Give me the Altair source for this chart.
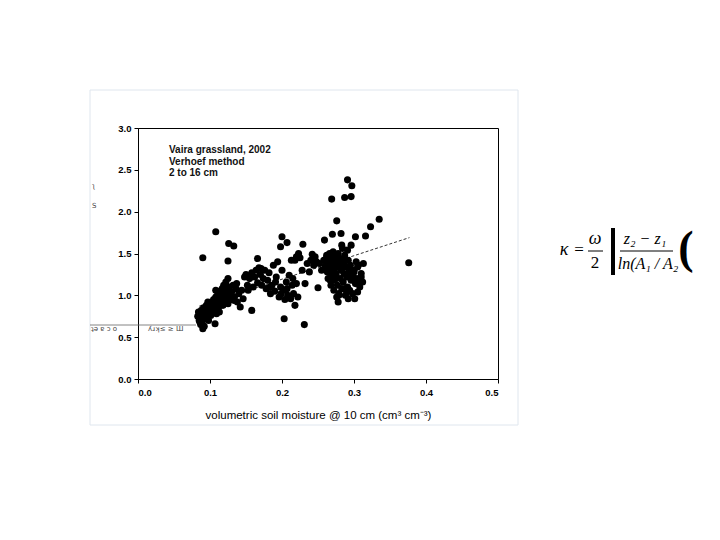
import altair as alt
import pandas as pd

# ---- scatter data, grouped by region ----
left_x = [
    0.083, 0.084, 0.085, 0.086, 0.087, 0.088, 0.088, 0.089, 0.090, 0.090, 0.091, 0.092, 0.093, 0.094,
    0.095, 0.096, 0.097, 0.098, 0.099, 0.100, 0.101, 0.102, 0.103, 0.104, 0.105, 0.106, 0.107, 0.108,
    0.109, 0.110, 0.111, 0.112, 0.113, 0.114, 0.115, 0.116, 0.117, 0.118, 0.119, 0.120, 0.121, 0.122,
    0.123, 0.124, 0.125, 0.126, 0.127, 0.128, 0.130, 0.132, 0.134, 0.136, 0.138, 0.140, 0.142, 0.144,
    0.146, 0.148, 0.086, 0.092, 0.097, 0.103, 0.108, 0.113, 0.118, 0.121, 0.125, 0.129, 0.133, 0.137,
]
left_y = [
    0.75, 0.80, 0.70, 0.78, 0.65, 0.72, 0.82, 0.68, 0.60, 0.76, 0.85, 0.63, 0.80, 0.72,
    0.88, 0.78, 0.84, 0.70, 0.90, 0.82, 0.76, 0.92, 0.86, 0.80, 0.95, 0.88, 0.84, 0.98,
    0.78, 0.92, 1.02, 0.86, 0.96, 1.05, 0.90, 1.00, 1.08, 0.94, 1.12, 0.98, 1.04, 1.16,
    0.92, 1.06, 1.20, 1.00, 1.10, 0.95, 1.04, 1.12, 0.98, 1.08, 0.92, 1.02, 0.86, 1.06,
    0.96, 1.22, 0.68, 0.74, 0.92, 0.88, 1.06, 0.80, 0.88, 1.10, 0.90, 1.00, 0.94, 1.14,
]
mid_x = [
    0.150, 0.152, 0.155, 0.158, 0.160, 0.162, 0.164, 0.166, 0.168, 0.170, 0.172, 0.174, 0.176, 0.178,
    0.180, 0.182, 0.184, 0.186, 0.188, 0.190, 0.192, 0.194, 0.196, 0.198, 0.200, 0.202, 0.204, 0.206,
    0.208, 0.210, 0.212, 0.214, 0.216, 0.218, 0.220, 0.222, 0.225, 0.228, 0.232, 0.235, 0.238, 0.240,
    0.244, 0.246, 0.248, 0.153, 0.171, 0.183, 0.191, 0.199, 0.207, 0.215,
]
mid_y = [
    1.25, 1.12, 1.20, 1.27, 1.10, 1.22, 1.30, 1.15, 1.33, 1.25, 1.12, 1.20, 1.30, 1.08,
    1.18, 1.27, 1.02, 1.12, 1.36, 1.05, 1.22, 1.40, 0.98, 1.10, 1.30, 1.06, 0.95, 1.16,
    1.00, 1.24, 0.96, 1.12, 1.02, 1.42, 1.14, 0.98, 1.45, 1.30, 1.14, 1.38, 1.28, 1.42,
    1.36, 1.46, 1.40, 1.06, 1.32, 1.10, 1.16, 1.02, 1.08, 1.20,
]
right_x = [
    0.252, 0.255, 0.258, 0.260, 0.262, 0.263, 0.265, 0.266, 0.267, 0.268, 0.269, 0.270, 0.271, 0.272,
    0.273, 0.274, 0.275, 0.276, 0.277, 0.278, 0.279, 0.280, 0.281, 0.282, 0.283, 0.284, 0.285, 0.286,
    0.287, 0.288, 0.289, 0.290, 0.291, 0.292, 0.293, 0.294, 0.295, 0.296, 0.298, 0.300, 0.302, 0.304,
    0.306, 0.308, 0.310, 0.312, 0.264, 0.268, 0.272, 0.276, 0.280, 0.284, 0.288, 0.292, 0.261, 0.270,
    0.274, 0.278, 0.283, 0.287, 0.291, 0.296, 0.300, 0.305, 0.266, 0.279, 0.262, 0.267, 0.271, 0.275,
    0.279, 0.283, 0.286, 0.290, 0.294, 0.298,
]
right_y = [
    1.38, 1.30, 1.42, 1.35, 1.45, 1.28, 1.40, 1.50, 1.33, 1.22, 1.44, 1.36, 1.52, 1.30,
    1.18, 1.40, 1.26, 1.46, 1.12, 1.34, 1.02, 1.42, 1.20, 1.30, 1.08, 1.38, 1.16, 1.26,
    1.48, 1.00, 1.34, 1.22, 1.10, 1.42, 1.28, 1.06, 1.36, 1.18, 1.24, 1.30, 1.14, 1.20,
    1.36, 1.10, 1.22, 1.16, 1.20, 1.12, 1.06, 0.98, 1.44, 1.56, 1.08, 0.96, 1.32, 1.26,
    1.40, 1.50, 1.32, 1.44, 1.54, 1.60, 1.28, 1.34, 1.46, 1.38, 1.48, 1.18, 1.46, 1.24,
    1.00, 1.60, 1.38, 1.04, 1.30, 1.02,
]
out_x = [
    0.090, 0.108, 0.126, 0.133, 0.125, 0.107, 0.158, 0.203, 0.231, 0.200, 0.207, 0.198, 0.229, 0.269,
    0.291, 0.297, 0.287, 0.296, 0.276, 0.335, 0.323, 0.316, 0.302, 0.376, 0.301, 0.278, 0.250, 0.218,
    0.166, 0.282, 0.270, 0.259, 0.313, 0.303, 0.307, 0.310, 0.305, 0.242, 0.223, 0.220, 0.213,
]
out_y = [
    1.45, 1.76, 1.62, 1.59, 1.41, 0.66, 0.82, 0.72, 0.65, 1.70, 1.63, 1.58, 1.61, 2.15,
    2.38, 2.31, 2.17, 2.18, 1.89, 1.91, 1.82, 1.71, 1.70, 1.39, 0.96, 0.92, 1.09, 0.88,
    1.44, 1.74, 1.73, 1.66, 1.38, 1.40, 1.14, 1.26, 1.04, 1.49, 1.50, 1.46, 1.42,
]

xs_all = left_x + mid_x + right_x + out_x
ys_all = left_y + mid_y + right_y + out_y
n = min(len(xs_all), len(ys_all))
pts = pd.DataFrame({"x": xs_all[:n], "y": ys_all[:n]})

# regression line end points
fit_x = [0.085, 0.377]
fit_y = [0.87, 1.69]
fit = pd.DataFrame({"x": fit_x, "y": fit_y})

x_ticks = [0.0, 0.1, 0.2, 0.3, 0.4, 0.5]
y_ticks = [0.0, 0.5, 1.0, 1.5, 2.0, 2.5, 3.0]

note_lines = ["Vaira grassland, 2002", "Verhoef method", "2 to 16 cm"]

xs = alt.Scale(domain=[0, 0.5], nice=False, zero=False)
ys = alt.Scale(domain=[0, 3.0], nice=False, zero=False)

xax = alt.Axis(values=x_ticks, format=".1f", title="volumetric soil moisture @ 10 cm (cm\u00b3 cm\u207b\u00b3)",
               labelFont="Liberation Sans", labelFontSize=9.5, labelFontWeight="bold", labelColor="black",
               titleFont="Liberation Sans", titleFontSize=11.5, titleFontWeight="normal", titleColor="black",
               titlePadding=13, tickColor="black", domainColor="black", tickSize=4, grid=False, labelPadding=4)
yax = alt.Axis(values=y_ticks, format=".1f", title=None,
               labelFont="Liberation Sans", labelFontSize=9.5, labelFontWeight="bold", labelColor="black",
               tickColor="black", domainColor="black", tickSize=4, grid=False, labelPadding=3)

one = pd.DataFrame({"a": [0]})

# slide frame around the figure
frame = alt.Chart(one).mark_rect(fill=None, stroke="#dfe6ee", strokeWidth=1).encode(
    x=alt.value(-48), x2=alt.value(380), y=alt.value(-38), y2=alt.value(297)
)

base_pts = alt.Chart(pts).mark_circle(size=50, color="black", opacity=1).encode(
    x=alt.X("x:Q", scale=xs, axis=xax),
    y=alt.Y("y:Q", scale=ys, axis=yax),
)

line = alt.Chart(fit).mark_line(color="black", strokeWidth=0.8, strokeDash=[3, 2]).encode(
    x=alt.X("x:Q", scale=xs),
    y=alt.Y("y:Q", scale=ys),
)

layers = [frame, base_pts, line]

for i, t in enumerate(note_lines):
    layers.append(alt.Chart(one).mark_text(align="left", baseline="middle", font="Liberation Sans",
                                           fontSize=10, fontWeight="bold", color="#111").encode(
        x=alt.value(31), y=alt.value(22 + 11.5 * i), text=alt.value(t)))

# formula pieces on the right of the slide (pixel positions relative to plot origin)
def txt(t, px, py, fs, style="italic", weight="normal"):
    return alt.Chart(one).mark_text(font="Liberation Serif", fontStyle=style, fontWeight=weight,
                                    fontSize=fs, color="black", align="center", baseline="middle").encode(
        x=alt.value(px), y=alt.value(py), text=alt.value(t))

layers += [
    txt("\u03ba", 426, 122, 18),
    txt("=", 441, 122, 17, style="normal"),
    txt("\u03c9", 457, 111, 18),
    txt("2", 457, 135, 17, style="normal"),
    txt("z\u2082 \u2212 z\u2081", 507, 111, 16),
    txt("ln(A\u2081 / A\u2082", 510, 136, 16),
    txt("(", 548, 121, 46, style="normal", weight="bold"),
]
layers.append(alt.Chart(one).mark_rule(color="black", strokeWidth=1).encode(
    x=alt.value(450), x2=alt.value(465), y=alt.value(123)))
layers.append(alt.Chart(one).mark_rule(color="black", strokeWidth=1).encode(
    x=alt.value(482), x2=alt.value(535), y=alt.value(123)))
layers.append(alt.Chart(one).mark_rule(color="black", strokeWidth=4).encode(
    x=alt.value(475), y=alt.value(100), y2=alt.value(147)))

# garbled fragments at the left edge
frag = [("\u0285", -46, 58), ("S", -46, 78),
        ("\u0287\u01dd \u0250 \u0254 o", -47, 201),
        ("\u028e\u0279\u029e\u2264 \u2265 \u0428", 10, 201)]
for t, px, py in frag:
    layers.append(alt.Chart(one).mark_text(font="DejaVu Sans", fontSize=7, color="#444", align="left",
                                           baseline="middle").encode(
        x=alt.value(px), y=alt.value(py), text=alt.value(t)))
layers.append(alt.Chart(one).mark_rule(color="#666", strokeWidth=0.8).encode(
    x=alt.value(-48), x2=alt.value(58), y=alt.value(197)))

chart = alt.layer(*layers).properties(
    width=360, height=251,
    autosize=alt.AutoSizeParams(type="none"),
    padding={"left": 130, "top": 120, "right": 210, "bottom": 150},
    background="white",
).configure_view(stroke="black", strokeWidth=1)

chart.save("out.html", embed_options={"renderer": "svg", "actions": False})
